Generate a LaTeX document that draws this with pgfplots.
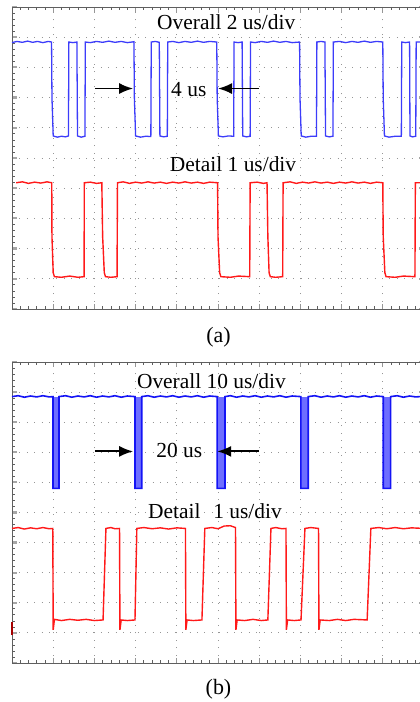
\documentclass[border=0pt]{standalone}
\usepackage{fontspec}
\setmainfont{Liberation Serif}
\usepackage{pgfplots}
\pgfplotsset{compat=1.18}
\usetikzlibrary{arrows.meta}

\definecolor{tblueA}{RGB}{60,60,250}
\definecolor{tblueB}{RGB}{20,20,245}
\definecolor{tblueFill}{RGB}{110,110,255}
\definecolor{tred}{RGB}{255,25,25}
\definecolor{gridc}{RGB}{150,150,150}
\definecolor{axc}{RGB}{95,95,95}

\pgfplotsset{
 scopestyle/.style={
  scale only axis, width=412bp, xmin=0, xmax=10, ymin=0, ymax=10,
  xtick={0,...,10}, ytick={0,...,10}, minor x tick num=4, minor y tick num=4,
  xticklabels={}, yticklabels={},
  grid=major, major grid style={gridc, line width=0.9bp, dash pattern=on 0.9bp off 6.5bp},
  axis line style={axc, line width=0.9bp},
  major tick length=5bp, minor tick length=3bp,
  every major tick/.append style={gridc, line width=1bp},
  every minor tick/.append style={axc, line width=0.7bp},
  every major y tick/.append style={line width=2.2bp, gray!70},
  clip=false,
 },
}
\tikzset{
 lbl/.style={anchor=base west, inner sep=0pt, font=\fontsize{21.5}{25}\selectfont},
 arr/.style={-{Latex[length=14bp,width=11bp]}, line width=1.8bp, black},
}

\begin{document}
\begin{tikzpicture}
\path[use as bounding box] (0,0) rectangle (420bp,702bp);

% ---------------- panel (a)
\begin{axis}[scopestyle, height=302bp, at={(12bp,393bp)}, anchor=south west]
\addplot[tblueA, line width=1.3bp] coordinates {
(0,8.82) (0.12,8.86) (0.25,8.83) (0.38,8.87) (0.5,8.83) (0.62,8.86) (0.75,8.82) (0.88,8.86) (0.96,8.84)
(0.97,7.0) (1.00,5.73) (1.1,5.69) (1.2,5.72) (1.3,5.70) (1.37,5.73)
(1.38,8.84) (1.48,8.82) (1.575,8.84)
(1.59,5.73) (1.68,5.69) (1.77,5.72)
(1.78,8.84) (1.9,8.82) (2.05,8.86) (2.2,8.83) (2.35,8.87) (2.5,8.83) (2.65,8.86) (2.8,8.82) (2.96,8.85)
(2.97,7.0) (3.00,5.73) (3.12,5.69) (3.25,5.72) (3.37,5.71)
(3.38,8.84) (3.48,8.86) (3.575,8.83)
(3.59,5.73) (3.68,5.70) (3.77,5.72)
(3.78,8.84) (3.9,8.86) (4.05,8.82) (4.2,8.86) (4.35,8.83) (4.5,8.87) (4.65,8.83) (4.8,8.86) (4.97,8.84)
(4.98,7.0) (5.01,5.73) (5.12,5.70) (5.25,5.73) (5.38,5.72)
(5.39,8.84) (5.49,8.82) (5.585,8.84)
(5.60,5.73) (5.69,5.70) (5.78,5.72)
(5.79,8.84) (5.9,8.82) (6.05,8.86) (6.2,8.83) (6.35,8.87) (6.5,8.83) (6.65,8.86) (6.8,8.82) (6.98,8.84)
(6.99,7.0) (7.02,5.73) (7.13,5.69) (7.26,5.72) (7.39,5.72)
(7.40,8.84) (7.50,8.86) (7.595,8.84)
(7.61,5.73) (7.70,5.70) (7.79,5.72)
(7.80,8.84) (7.95,8.86) (8.1,8.82) (8.25,8.86) (8.4,8.83) (8.55,8.87) (8.7,8.83) (8.85,8.86) (9.00,8.84)
(9.01,7.0) (9.04,5.73) (9.15,5.69) (9.3,5.72) (9.45,5.72)
(9.46,8.84) (9.55,8.82) (9.65,8.84)
(9.66,5.73) (9.72,5.70) (9.80,5.72)
(9.81,8.84) (10,8.84)
};
\addplot[tred, line width=1.4bp] coordinates {
(0.10,4.18) (0.25,4.21) (0.4,4.16) (0.55,4.20) (0.7,4.17) (0.85,4.21) (0.965,4.18)
(0.97,2.4) (1.0,1.2) (1.03,1.07)
(1.2,1.05) (1.4,1.09) (1.6,1.05) (1.75,1.07)
(1.755,4.18) (1.9,4.20) (2.05,4.16) (2.18,4.18)
(2.20,2.4) (2.24,1.2) (2.27,1.07) (2.4,1.05) (2.55,1.07)
(2.56,4.18) (2.7,4.21) (2.85,4.16) (3.0,4.20) (3.15,4.17) (3.3,4.21) (3.45,4.17) (3.6,4.20) (3.75,4.16)
(3.9,4.20) (4.05,4.17) (4.2,4.21) (4.35,4.17) (4.5,4.20) (4.65,4.16) (4.8,4.20) (4.99,4.18)
(5.00,2.4) (5.04,1.2) (5.07,1.07) (5.3,1.05) (5.5,1.09) (5.77,1.07)
(5.78,4.18) (5.95,4.20) (6.10,4.16) (6.19,4.18)
(6.21,2.4) (6.24,1.2) (6.27,1.07) (6.4,1.05) (6.57,1.07)
(6.58,4.18) (6.75,4.21) (6.9,4.16) (7.05,4.20) (7.2,4.17) (7.35,4.21) (7.5,4.17) (7.65,4.20) (7.8,4.16)
(7.95,4.20) (8.1,4.17) (8.25,4.21) (8.4,4.17) (8.55,4.20) (8.7,4.16) (8.85,4.20) (9.00,4.18)
(9.01,2.4) (9.05,1.2) (9.08,1.07) (9.3,1.05) (9.5,1.09) (9.78,1.07)
(9.79,4.18) (10,4.18)
};
\node[lbl] at (axis cs:3.52,9.24) {Overall 2 us/div};
\node[lbl] at (axis cs:3.86,7.02) {4 us};
\node[lbl] at (axis cs:3.83,4.54) {Detail 1 us/div};
\draw[arr] (axis cs:2.01,7.30) -- (axis cs:2.94,7.30);
\draw[arr] (axis cs:6.00,7.30) -- (axis cs:5.00,7.30);
\end{axis}

% ---------------- panel (b)
\begin{axis}[scopestyle, height=301bp, at={(12bp,39bp)}, anchor=south west]
\addplot[draw=none, fill=tblueFill] coordinates {(0.995,8.85) (0.995,5.80) (1.14,5.80) (1.14,8.85)} -- cycle;
\addplot[draw=none, fill=tblueFill] coordinates {(2.985,8.85) (2.985,5.80) (3.15,5.80) (3.15,8.85)} -- cycle;
\addplot[draw=none, fill=tblueFill] coordinates {(4.98,8.85) (4.98,5.80) (5.17,5.80) (5.17,8.85)} -- cycle;
\addplot[draw=none, fill=tblueFill] coordinates {(7.01,8.85) (7.01,5.80) (7.19,5.80) (7.19,8.85)} -- cycle;
\addplot[draw=none, fill=tblueFill] coordinates {(9.01,8.85) (9.01,5.80) (9.19,5.80) (9.19,8.85)} -- cycle;
\addplot[tblueB, line width=1.6bp] coordinates {
(0,8.85) (0.15,8.88) (0.3,8.83) (0.45,8.87) (0.6,8.84) (0.75,8.88) (0.9,8.84) (0.995,8.85)
(0.995,5.80) (1.14,5.80) (1.14,8.85)
(1.3,8.88) (1.45,8.83) (1.6,8.87) (1.75,8.84) (1.9,8.88) (2.05,8.83) (2.2,8.87) (2.35,8.84) (2.5,8.88) (2.65,8.83) (2.8,8.87) (2.985,8.85)
(2.985,5.80) (3.15,5.80) (3.15,8.85)
(3.3,8.88) (3.45,8.83) (3.6,8.87) (3.75,8.84) (3.9,8.88) (4.05,8.83) (4.2,8.87) (4.35,8.84) (4.5,8.88) (4.65,8.83) (4.8,8.87) (4.98,8.85)
(4.98,5.80) (5.17,5.80) (5.17,8.85)
(5.3,8.88) (5.45,8.83) (5.6,8.87) (5.75,8.84) (5.9,8.88) (6.05,8.83) (6.2,8.87) (6.35,8.84) (6.5,8.88) (6.65,8.83) (6.8,8.87) (7.01,8.85)
(7.01,5.80) (7.19,5.80) (7.19,8.85)
(7.35,8.88) (7.5,8.83) (7.65,8.87) (7.8,8.84) (7.95,8.88) (8.1,8.83) (8.25,8.87) (8.4,8.84) (8.55,8.88) (8.7,8.83) (8.85,8.87) (9.01,8.85)
(9.01,5.80) (9.19,5.80) (9.19,8.85)
(9.35,8.88) (9.5,8.83) (9.65,8.87) (9.8,8.84) (10,8.86)
};
\addplot[tred, line width=1.4bp] coordinates {
(0,4.47) (0.15,4.50) (0.3,4.45) (0.45,4.49) (0.6,4.46) (0.75,4.50) (0.9,4.46) (0.99,4.47)
(1.00,1.10) (1.03,1.45) (1.2,1.41) (1.4,1.45) (1.6,1.42) (1.8,1.45) (2.0,1.41) (2.21,1.43)
(2.28,4.47) (2.4,4.50) (2.5,4.46) (2.61,4.47)
(2.62,1.10) (2.65,1.43) (2.8,1.41) (2.985,1.43)
(3.03,4.47) (3.2,4.50) (3.4,4.46) (3.6,4.49) (3.8,4.45) (4.0,4.49) (4.21,4.47)
(4.22,1.10) (4.25,1.43) (4.4,1.41) (4.61,1.43)
(4.68,4.47) (4.85,4.50) (5.0,4.46) (5.15,4.55) (5.3,4.56) (5.425,4.50)
(5.435,1.10) (5.465,1.43) (5.65,1.41) (5.85,1.45) (6.05,1.41) (6.21,1.43)
(6.285,4.47) (6.4,4.50) (6.55,4.46) (6.65,4.47)
(6.66,1.10) (6.69,1.43) (6.85,1.41) (7.015,1.43)
(7.11,4.47) (7.25,4.50) (7.44,4.47)
(7.45,1.10) (7.48,1.43) (7.7,1.41) (7.9,1.45) (8.1,1.41) (8.3,1.45) (8.62,1.43)
(8.71,4.47) (8.9,4.50) (9.1,4.46) (9.3,4.50) (9.5,4.46) (9.7,4.49) (10,4.47)
};
\addplot[draw=red!65!black, line width=2bp] coordinates {(0,0.93) (0,1.36)};
\node[lbl] at (axis cs:3.03,9.13) {Overall 10 us/div};
\node[lbl] at (axis cs:3.50,6.83) {20 us};
\node[lbl] at (axis cs:3.30,4.81) {Detail\hspace{0.35em} 1 us/div};
\draw[arr] (axis cs:2.01,7.03) -- (axis cs:2.94,7.03);
\draw[arr] (axis cs:6.00,7.03) -- (axis cs:4.98,7.03);
\end{axis}

\node[anchor=base, inner sep=0pt, font=\fontsize{22}{26}\selectfont] at (218.5bp,359bp) {(a)};
\node[anchor=base, inner sep=0pt, font=\fontsize{22}{26}\selectfont] at (218.5bp,8bp) {(b)};
\end{tikzpicture}
\end{document}
